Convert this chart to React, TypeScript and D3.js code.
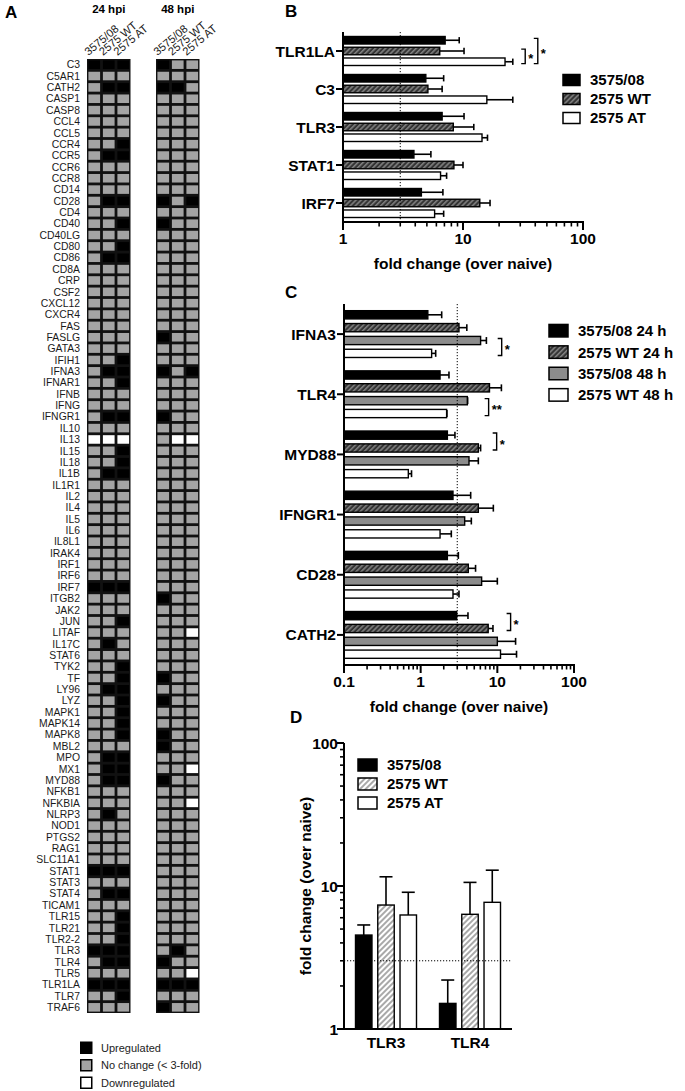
import * as d3 from "d3";

const FONT = "'Liberation Sans', Arial, Helvetica, sans-serif";

// ---------- panel A: heat map of calls (U up, N no change, D down)
const genes = [
  "C3", "C5AR1", "CATH2", "CASP1", "CASP8", "CCL4", "CCL5", "CCR4", "CCR5", "CCR6",
  "CCR8", "CD14", "CD28", "CD4", "CD40", "CD40LG", "CD80", "CD86", "CD8A", "CRP",
  "CSF2", "CXCL12", "CXCR4", "FAS", "FASLG", "GATA3", "IFIH1", "IFNA3", "IFNAR1", "IFNB",
  "IFNG", "IFNGR1", "IL10", "IL13", "IL15", "IL18", "IL1B", "IL1R1", "IL2", "IL4",
  "IL5", "IL6", "IL8L1", "IRAK4", "IRF1", "IRF6", "IRF7", "ITGB2", "JAK2", "JUN",
  "LITAF", "IL17C", "STAT6", "TYK2", "TF", "LY96", "LYZ", "MAPK1", "MAPK14", "MAPK8",
  "MBL2", "MPO", "MX1", "MYD88", "NFKB1", "NFKBIA", "NLRP3", "NOD1", "PTGS2", "RAG1",
  "SLC11A1", "STAT1", "STAT3", "STAT4", "TICAM1", "TLR15", "TLR21", "TLR2-2", "TLR3", "TLR4",
  "TLR5", "TLR1LA", "TLR7", "TRAF6",
];
const calls24 = [
  "UUU", "NNN", "NUU", "NNN", "NNN", "NNN", "NNN", "NNU", "NUU", "NNN",
  "NNN", "NNN", "NUU", "NNN", "NNU", "NNN", "NNU", "NUU", "NNN", "NNN",
  "NNN", "NNN", "NNN", "NNN", "NNN", "NNN", "NNU", "NUU", "NNU", "NNN",
  "NNN", "NUU", "NNN", "DDD", "NNU", "NNU", "NUU", "NNN", "NNN", "NNN",
  "NNN", "NNN", "NNN", "NNN", "NNN", "NNN", "UUU", "NNN", "NNN", "NNU",
  "NNN", "NUN", "NNN", "NNU", "NNU", "NUU", "NNU", "NNU", "NNU", "NNU",
  "NNN", "NUU", "NUU", "NUU", "NNN", "NNN", "NUN", "NNN", "NNN", "NNN",
  "NNN", "UUU", "NNN", "NUU", "NNN", "NNU", "NNU", "NNU", "UUU", "NUU",
  "NNN", "UUU", "NNU", "NNN",
];
const calls48 = [
  "UNN", "NNN", "UUN", "NNN", "NNN", "NNN", "NNN", "NNN", "NNN", "NNN",
  "NNN", "NNN", "UNU", "NNN", "UNN", "NNN", "NNN", "NNN", "NNN", "NNN",
  "NNN", "NNN", "NNN", "NNN", "UNN", "NNN", "NNN", "UNU", "NNN", "NNN",
  "NNN", "UNN", "NNN", "NDD", "NNN", "NNN", "NNN", "NNN", "NNN", "NNN",
  "NNN", "NNN", "NNN", "NNN", "NNN", "NNN", "NNN", "UNN", "NNN", "NNN",
  "NND", "NNN", "NNN", "NNN", "UNN", "NNN", "UNN", "NNN", "NNN", "UNN",
  "UNN", "NNN", "NND", "UNN", "NNN", "NND", "NNN", "NNN", "NNN", "NNN",
  "NNN", "NNN", "NNN", "NNN", "NNN", "NNN", "NNN", "NNN", "NUN", "UNN",
  "NND", "UUU", "NNN", "UNN",
];
const strains = ["3575/08", "2575 WT", "2575 AT"];
const timepoints = ["24 hpi", "48 hpi"];
const legendCalls = ["U", "N", "D"];
const legendCallText = ["Upregulated", "No change (< 3-fold)", "Downregulated"];

// ---------- panel B
const genesB = ["TLR1LA", "C3", "TLR3", "STAT1", "IRF7"];
const seriesB = ["3575/08", "2575 WT", "2575 AT"];
const meanB = [
  [7.1, 4.9, 6.7, 3.9, 4.5],
  [6.4, 5.1, 8.3, 8.4, 13.8],
  [22.4, 15.8, 14.4, 6.5, 5.8],
];
const errB = [
  [9.3, 6.9, 10.2, 5.4, 6.8],
  [10.2, 6.7, 12.3, 10, 16.8],
  [26, 26, 16, 7.3, 6.9],
];
const sigB = [
  { gene: "TLR1LA", a: 1, b: 2, at: 33, label: "*" },
  { gene: "TLR1LA", a: 0, b: 2, at: 42, label: "*" },
];

// ---------- panel C
const genesC = ["IFNA3", "TLR4", "MYD88", "IFNGR1", "CD28", "CATH2"];
const seriesC = ["3575/08 24 h", "2575 WT 24 h", "3575/08 48 h", "2575 WT 48 h"];
const meanC = [
  [1.24, 1.79, 2.23, 2.64, 2.23, 2.95],
  [3.16, 7.9, 5.65, 5.65, 4.18, 7.6],
  [6.05, 4.06, 4.27, 3.75, 6.24, 10],
  [1.39, 2.18, 0.69, 1.79, 2.64, 11.0],
];
const errC = [
  [1.88, 2.34, 2.8, 4.49, 3.1, 4.14],
  [4.0, 11.3, 6.05, 8.87, 5.2, 8.77],
  [7.2, 4.1, 5.65, 4.58, 10, 17.3],
  [1.57, 2.2, 0.76, 2.51, 3.16, 17.8],
];
const sigC = [
  { gene: "IFNA3", a: 2, b: 3, at: 11.4, label: "*" },
  { gene: "TLR4", a: 2, b: 3, at: 7.7, label: "**" },
  { gene: "MYD88", a: 0, b: 1, at: 9.8, label: "*" },
  { gene: "CATH2", a: 0, b: 1, at: 14.9, label: "*" },
];

// ---------- panel D
const genesD = ["TLR3", "TLR4"];
const seriesD = ["3575/08", "2575 WT", "2575 AT"];
const meanD = [
  [4.54, 1.51],
  [7.36, 6.34],
  [6.27, 7.69],
];
const errD = [
  [5.34, 2.2],
  [11.6, 10.6],
  [9.04, 12.9],
];

const callFill: Record<string, string> = { U: "#000", N: "#a4a4a4", D: "#fff" };
const fillsB = ["#000", "url(#hatchDark)", "#fff"];
const fillsC = ["#000", "url(#hatchDark)", "#8c8c8c", "#fff"];
const fillsD = ["#000", "url(#hatchLight)", "#fff"];

const isMajor = (v: number) => Math.abs(Math.log10(v) - Math.round(Math.log10(v))) < 1e-6;
const fmt = (v: number) => (v < 1 ? String(v) : d3.format("d")(v));

function HeatMap() {
  const y = d3.scaleBand<string>().domain(genes).range([59, 1013]);
  const blocks = [
    { t: timepoints[0], calls: calls24, x: d3.scaleBand<string>().domain(strains).range([87, 130.5]) },
    { t: timepoints[1], calls: calls48, x: d3.scaleBand<string>().domain(strains).range([156, 199.5]) },
  ];
  const h = y.bandwidth();
  return (
    <g>
      <text x={5} y={18} fontFamily={FONT} fontWeight="bold" fontSize={17}>A</text>
      {genes.map((g) => (
        <text key={g} x={80} y={(y(g) ?? 0) + h / 2 + 3.7} textAnchor="end" fontFamily={FONT} fontSize={10.4} fill="#1a1a1a">
          {g}
        </text>
      ))}
      {blocks.map((b) => {
        const [x0, x1] = b.x.range();
        const w = b.x.bandwidth();
        return (
          <g key={b.t}>
            <text x={(x0 + x1) / 2} y={13} textAnchor="middle" fontFamily={FONT} fontWeight="bold" fontSize={11.5}>{b.t}</text>
            {strains.map((s) => (
              <text key={s} transform={`translate(${(b.x(s) ?? 0) + 1.5},56) rotate(-40)`} fontFamily={FONT} fontSize={11.2} fill="#1a1a1a">
                {s}
              </text>
            ))}
            <rect x={x0} y={59} width={x1 - x0} height={1013 - 59} fill="#111" />
            {genes.map((g, i) =>
              strains.map((s, j) => (
                <rect
                  key={g + s}
                  x={(b.x(s) ?? 0) + 1.4}
                  y={(y(g) ?? 0) + 1.4}
                  width={w - 2.8}
                  height={h - 2.8}
                  fill={callFill[b.calls[i][j]]}
                />
              ))
            )}
          </g>
        );
      })}
      {legendCalls.map((c, i) => (
        <g key={c} transform={`translate(80,${1041.5 + i * 17.5})`}>
          <rect x={0.75} y={0.75} width={11} height={11} fill={callFill[c]} stroke="#000" strokeWidth={1.5} />
          <text x={21} y={10} fontFamily={FONT} fontSize={11} fill="#222">{legendCallText[i]}</text>
        </g>
      ))}
    </g>
  );
}

type Sig = { gene: string; a: number; b: number; at: number; label: string };

function HBars(props: {
  genes: string[];
  series: string[];
  means: number[][];
  errs: number[][];
  fills: string[];
  domain: [number, number];
  xr: [number, number];
  yr: [number, number];
  half: number;
  pad: number;
  sigs: Sig[];
  tickY: number;
}) {
  const { genes: gs, series, means, errs, fills, domain, xr, yr, half, pad, sigs, tickY } = props;
  const x = d3.scaleLog().domain(domain).range(xr);
  const y = d3.scaleBand<string>().domain(gs).range(yr);
  const sub = d3.scaleBand<string>().domain(series).range([-half, half]).paddingInner(pad);
  const bw = sub.bandwidth();
  const cy = (g: string, si: number) => (y(g) ?? 0) + y.bandwidth() / 2 + (sub(series[si]) ?? 0) + bw / 2;
  const x0 = xr[0];
  return (
    <g fontFamily={FONT} fontWeight="bold">
      {series.map((s, si) =>
        gs.map((g, gi) => {
          const c = cy(g, si);
          const xm = x(means[si][gi]);
          const xe = x(errs[si][gi]);
          return (
            <g key={s + g}>
              <line x1={xm} x2={xe} y1={c} y2={c} stroke="#000" strokeWidth={1.6} />
              <line x1={xe} x2={xe} y1={c - bw * 0.42} y2={c + bw * 0.42} stroke="#000" strokeWidth={1.6} />
              <rect x={x0} y={c - bw / 2} width={xm - x0} height={bw} fill={fills[si]} stroke="#000" strokeWidth={1.4} />
            </g>
          );
        })
      )}
      <line x1={x(3)} x2={x(3)} y1={yr[0]} y2={yr[1]} stroke="#000" strokeWidth={1} strokeDasharray="1.2 1.8" />
      <line x1={x0} x2={x0} y1={yr[0]} y2={yr[1] + 1} stroke="#000" strokeWidth={2} />
      <line x1={x0 - 1} x2={xr[1] + 1} y1={yr[1]} y2={yr[1]} stroke="#000" strokeWidth={2} />
      {x.ticks().map((v) => (
        <line key={v} x1={x(v)} x2={x(v)} y1={yr[1]} y2={yr[1] + (isMajor(v) ? 8 : 4.5)} stroke="#000" strokeWidth={isMajor(v) ? 2 : 1.6} />
      ))}
      {x.ticks().filter(isMajor).map((v) => (
        <text key={v} x={x(v)} y={tickY} textAnchor="middle" fontSize={15.5}>{fmt(v)}</text>
      ))}
      <text x={(xr[0] + xr[1]) / 2} y={tickY + 25} textAnchor="middle" fontSize={15.5}>fold change (over naive)</text>
      {gs.map((g) => {
        const c = (y(g) ?? 0) + y.bandwidth() / 2;
        return (
          <g key={g}>
            <line x1={x0 - 7} x2={x0} y1={c} y2={c} stroke="#000" strokeWidth={2} />
            <text x={x0 - 8} y={c + 5.5} textAnchor="end" fontSize={15.5}>{g}</text>
          </g>
        );
      })}
      {sigs.map((s, i) => {
        const bx = x(s.at);
        const ya = cy(s.gene, s.a) - bw * 0.25;
        const yb = cy(s.gene, s.b) + bw * 0.25;
        return (
          <g key={i}>
            <path d={`M${bx - 4},${ya}H${bx}V${yb}H${bx - 4}`} fill="none" stroke="#000" strokeWidth={1.4} />
            <text x={bx + 3} y={(ya + yb) / 2 + 7} fontSize={13}>{s.label}</text>
          </g>
        );
      })}
    </g>
  );
}

function Legend({ labels, fills, x, y, step, w, h, size }: { labels: string[]; fills: string[]; x: number; y: number; step: number; w: number; h: number; size: number }) {
  return (
    <g fontFamily={FONT} fontWeight="bold">
      {labels.map((l, i) => (
        <g key={l} transform={`translate(${x},${y + i * step})`}>
          <rect x={0} y={-h / 2} width={w} height={h} fill={fills[i]} stroke="#000" strokeWidth={1.5} />
          <text x={w + 10} y={size * 0.36} fontSize={size}>{l}</text>
        </g>
      ))}
    </g>
  );
}

function PanelD() {
  const y = d3.scaleLog().domain([1, 100]).range([1029, 743]);
  const x = d3.scaleBand<string>().domain(genesD).range([344, 512]);
  const sub = d3.scaleBand<string>().domain(seriesD).range([-30.5, 30.5]).paddingInner(0.26);
  const bw = sub.bandwidth();
  const cx = (g: string, si: number) => (x(g) ?? 0) + x.bandwidth() / 2 + (sub(seriesD[si]) ?? 0) + bw / 2;
  const yb = y.range()[0];
  return (
    <g fontFamily={FONT} fontWeight="bold">
      <text x={290} y={723} fontSize={17}>D</text>
      {seriesD.map((s, si) =>
        genesD.map((g, gi) => {
          const c = cx(g, si);
          const ym = y(meanD[si][gi]);
          const ye = y(errD[si][gi]);
          return (
            <g key={s + g}>
              <line x1={c} x2={c} y1={ym} y2={ye} stroke="#000" strokeWidth={1.6} />
              <line x1={c - 6.5} x2={c + 6.5} y1={ye} y2={ye} stroke="#000" strokeWidth={1.6} />
              <rect x={c - bw / 2} y={ym} width={bw} height={yb - ym} fill={fillsD[si]} stroke="#000" strokeWidth={1.4} />
            </g>
          );
        })
      )}
      <line x1={344} x2={512} y1={y(3)} y2={y(3)} stroke="#000" strokeWidth={1} strokeDasharray="1.2 1.8" />
      <line x1={344} x2={344} y1={743} y2={yb + 1} stroke="#000" strokeWidth={2} />
      <line x1={343} x2={512} y1={yb} y2={yb} stroke="#000" strokeWidth={2} />
      {y.ticks().map((v) => (
        <line key={v} x1={344 - (isMajor(v) ? 7 : 4)} x2={344} y1={y(v)} y2={y(v)} stroke="#000" strokeWidth={isMajor(v) ? 2 : 1.6} />
      ))}
      {y.ticks().filter(isMajor).map((v) => (
        <text key={v} x={338} y={y(v) + 5.5} textAnchor="end" fontSize={15.5}>{fmt(v)}</text>
      ))}
      {genesD.map((g) => (
        <text key={g} x={(x(g) ?? 0) + x.bandwidth() / 2} y={1048} textAnchor="middle" fontSize={15.5}>{g}</text>
      ))}
      <text transform={`translate(311,${(743 + 1029) / 2}) rotate(-90)`} textAnchor="middle" fontSize={15.5}>fold change (over naive)</text>
    </g>
  );
}

export default function App() {
  return (
    <svg width={685} height={1091} style={{ position: "absolute", left: 0, top: 0, background: "#fff" }}>
      <defs>
        <pattern id="hatchDark" patternUnits="userSpaceOnUse" width={3.6} height={3.6} patternTransform="rotate(45)">
          <rect width={3.6} height={3.6} fill="#333" />
          <line x1={0.8} x2={0.8} y1={0} y2={3.6} stroke="#8f8f8f" strokeWidth={1.3} />
        </pattern>
        <pattern id="hatchLight" patternUnits="userSpaceOnUse" width={4} height={4} patternTransform="rotate(45)">
          <rect width={4} height={4} fill="#fff" />
          <line x1={1} x2={1} y1={0} y2={4} stroke="#9a9a9a" strokeWidth={1.7} />
        </pattern>
      </defs>
      <HeatMap />

      <text x={285} y={17} fontFamily={FONT} fontWeight="bold" fontSize={17}>B</text>
      <HBars
        genes={genesB}
        series={seriesB}
        means={meanB}
        errs={errB}
        fills={fillsB}
        domain={[1, 100]}
        xr={[343, 583]}
        yr={[32, 222]}
        half={14.5}
        pad={0.3}
        sigs={sigB}
        tickY={244}
      />
      <Legend labels={seriesB} fills={fillsB} x={563} y={80} step={19} w={17} h={11} size={15} />

      <text x={285} y={298} fontFamily={FONT} fontWeight="bold" fontSize={17}>C</text>
      <HBars
        genes={genesC}
        series={seriesC}
        means={meanC}
        errs={errC}
        fills={fillsC}
        domain={[0.1, 100]}
        xr={[344, 574]}
        yr={[304, 665]}
        half={23.4}
        pad={0.36}
        sigs={sigC}
        tickY={687}
      />
      <Legend labels={seriesC} fills={fillsC} x={549} y={330.7} step={21.4} w={19} h={12.5} size={15} />

      <PanelD />
      <Legend labels={seriesD} fills={fillsD} x={358} y={765} step={19} w={19} h={12} size={15} />
    </svg>
  );
}
